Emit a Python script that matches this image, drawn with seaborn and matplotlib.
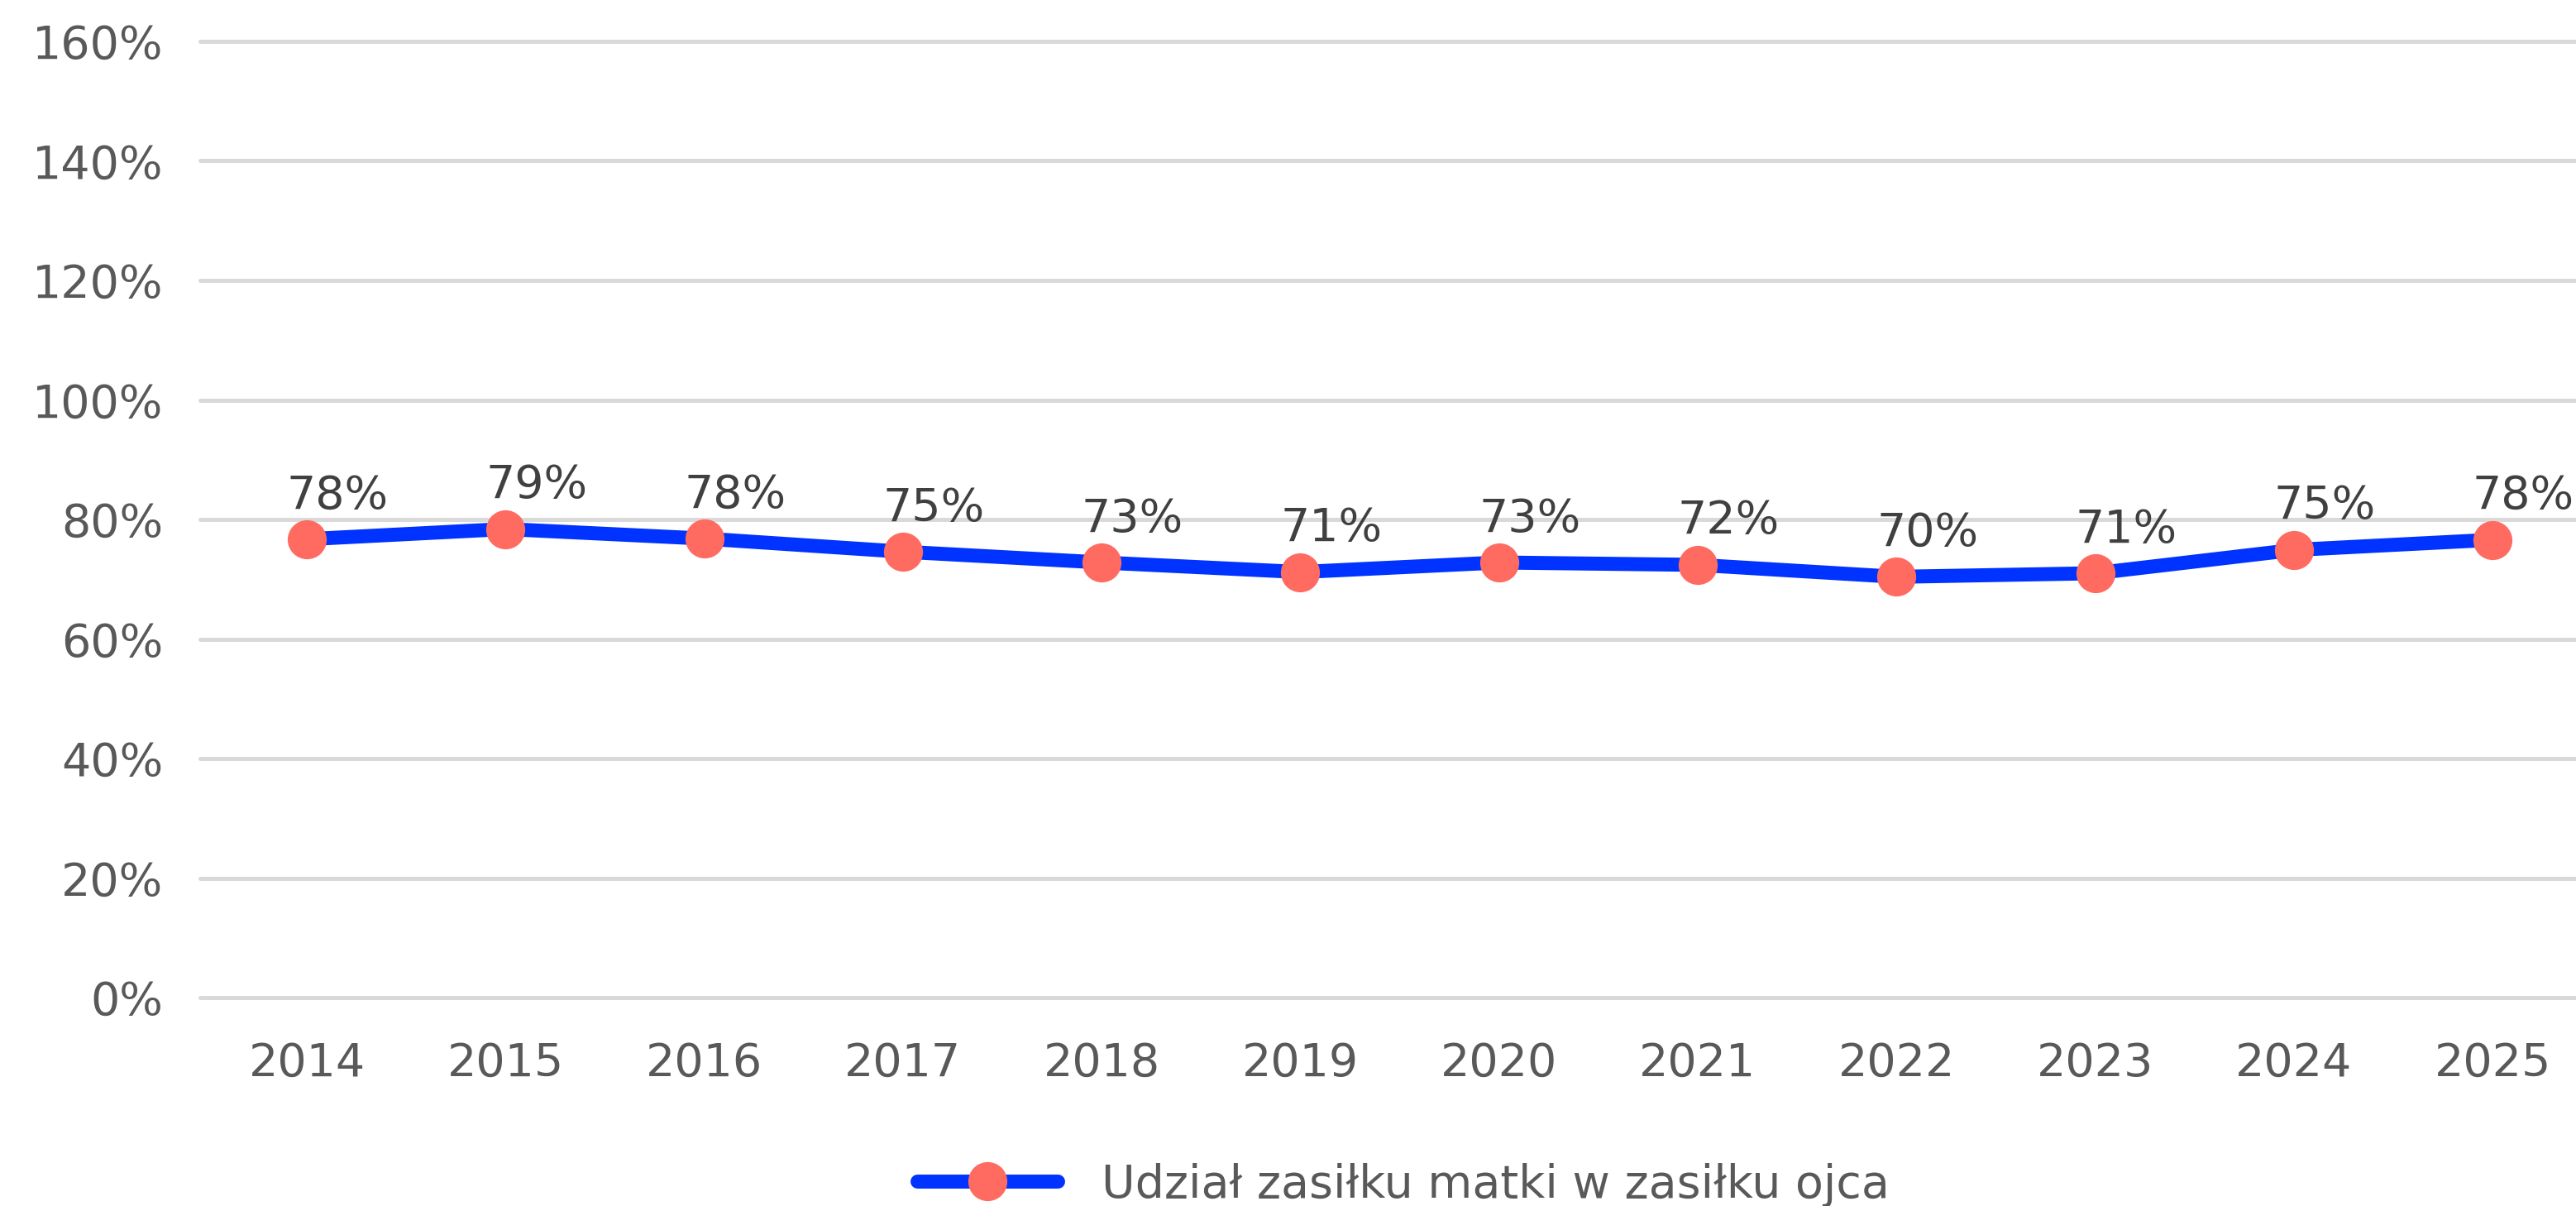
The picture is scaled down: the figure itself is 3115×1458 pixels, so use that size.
import matplotlib
matplotlib.use("Agg")
import matplotlib.pyplot as plt
import seaborn as sns
import pandas as pd

years = [2014, 2015, 2016, 2017, 2018, 2019, 2020, 2021, 2022, 2023, 2024, 2025]
values = [76.7, 78.4, 76.8, 74.6, 72.8, 71.2, 72.8, 72.4, 70.4, 71.0, 74.9, 76.6]
labels = ["78%", "79%", "78%", "75%", "73%", "71%", "73%", "72%", "70%", "71%", "75%", "78%"]
yticks = [0, 20, 40, 60, 80, 100, 120, 140, 160]
series_name = "Udział zasiłku matki w zasiłku ojca"

sns.set_theme(style="white")
plt.rcParams['font.family'] = ['DejaVu Sans']

df = pd.DataFrame({"year": years, "value": values, "series": series_name})

fig = plt.figure(figsize=(15.575, 7.29), dpi=200)
ax = fig.add_axes([242/3115, 1 - 1206/1458, 1 - 242/3115, (1206 - 50)/1458])

sns.lineplot(data=df, x="year", y="value", hue="series", palette=["#0033FF"],
             marker="o", markersize=17, markerfacecolor="#FF6B61",
             markeredgewidth=0, linewidth=6.1, solid_capstyle="round",
             ax=ax, legend=True, zorder=3)

ax.set_ylim(0, 160)
ax.set_xlim(2013.463, 2025.42)
ax.set_yticks(yticks)
ax.set_yticklabels([f"{t}%" for t in yticks])
ax.set_xticks(years)
ax.set_xticklabels([str(y) for y in years])
ax.set_xlabel("")
ax.set_ylabel("")
ax.grid(axis="y", color="#D9D9D9", linewidth=1.8)
ax.grid(axis="x", visible=False)
for gl in ax.get_ygridlines():
    gl.set_clip_on(False)
ax.set_axisbelow(True)
for s in ax.spines.values():
    s.set_visible(False)
ax.tick_params(axis="y", length=0, pad=16, labelsize=20, labelcolor="#595959")
ax.tick_params(axis="x", length=0, pad=19, labelsize=20, labelcolor="#595959")

for x, y, lab in zip(years, values, labels):
    ax.annotate(lab, (x, y), xytext=(13.5, 13.5), textcoords="offset points",
                ha="center", va="baseline", fontsize=20, color="#404040", zorder=4)

handles, labs = ax.get_legend_handles_labels()
ax.get_legend().remove()
for h in handles:
    h.set_markerfacecolor("#FF6B61")
    h.set_markeredgewidth(0)
    h.set_solid_capstyle("round")
fig.legend(handles, labs, loc="center", bbox_to_anchor=(1697/3115, 0.0174),
           frameon=False, fontsize=20, handlelength=3.06, handletextpad=0.94,
           labelcolor="#595959")

fig.savefig("out.png", dpi=200)
